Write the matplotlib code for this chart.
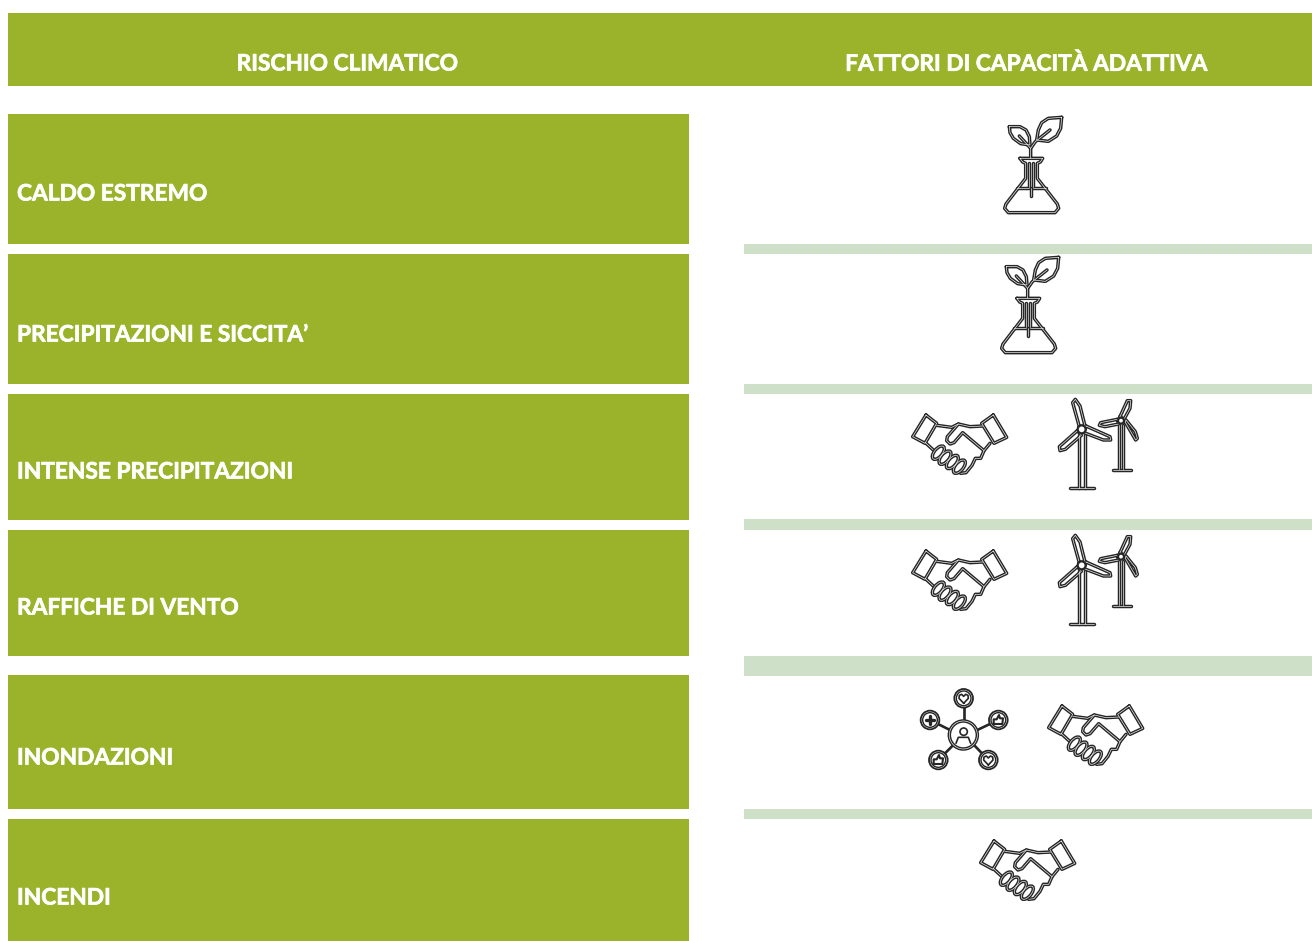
import matplotlib
matplotlib.use("Agg")
import matplotlib.pyplot as plt
import matplotlib.patheffects as pe
from matplotlib.patches import Rectangle, Circle, Ellipse

plt.rcParams['font.family'] = ['Lato', 'DejaVu Sans']

GREEN = "#9ab32b"
PALE = "#cee1c8"
DARK = "#262626"
OUTER = 2.5
INNER = 0.45

# Table content
headers = ["RISCHIO CLIMATICO", "FATTORI DI CAPACITÀ ADATTIVA"]
risks = ["CALDO ESTREMO", "PRECIPITAZIONI E SICCITA’", "INTENSE PRECIPITAZIONI",
         "RAFFICHE DI VENTO", "INONDAZIONI", "INCENDI"]
row_tops = [114, 254, 394, 530, 675, 819]
row_bottoms = [244, 384, 520, 656, 809, 941]
label_y = [194, 335, 472, 608, 758, 898]
sep_tops = [244, 384, 519, 656, 809]
sep_bottoms = [254, 394, 530, 676, 819]

# icon name, x offset, y offset per row
row_icons = [
    [("flask", 0, 0)],
    [("flask", -3, 140)],
    [("hands", 0, 0), ("turbines", 0, 0)],
    [("hands", 0, 136), ("turbines", 0, 136)],
    [("network", 0, 0), ("hands", 136, 291)],
    [("hands", 68, 426)],
]

fig = plt.figure(figsize=(13.12, 9.41), dpi=100)
ax = fig.add_axes([0, 0, 1, 1])
ax.set_xlim(0, 1312)
ax.set_ylim(941, 0)
ax.axis("off")


def stroke(pts, ox, oy, org, closed=False, single=None):
    # icons were traced at 3x, so divide back down to pixels
    xs = [p[0] / 3 + org[0] + ox for p in pts]
    ys = [p[1] / 3 + org[1] + oy for p in pts]
    if closed:
        xs.append(xs[0])
        ys.append(ys[0])
    if single:
        ax.plot(xs, ys, color=DARK, lw=single, solid_joinstyle="round", solid_capstyle="round", zorder=7)
        return
    ax.plot(xs, ys, color=DARK, lw=OUTER, solid_joinstyle="round", solid_capstyle="round", zorder=3)
    ax.plot(xs, ys, color="white", lw=INNER, solid_joinstyle="round", solid_capstyle="round", zorder=4)


def ring(cx, cy, r, ox, oy, org, lw=1.6, fc="none"):
    c = (cx / 3 + org[0] + ox, cy / 3 + org[1] + oy)
    ax.add_patch(Circle(c, r / 3, fc=fc, ec=DARK, lw=lw, zorder=5))


def draw_flask(ox, oy):
    org = (960, 100)
    stroke([(180, 175), (248, 175), (241, 186), (232, 190), (232, 235), (292, 312), (296, 325), (285, 338),
            (145, 338), (134, 325), (138, 312), (197, 235), (197, 190), (188, 186)], ox, oy, org, True)
    stroke([(172, 265), (207, 265)], ox, oy, org)
    stroke([(220, 265), (258, 265)], ox, oy, org)
    stroke([(207, 190), (207, 262)], ox, oy, org)
    stroke([(220, 190), (220, 262)], ox, oy, org)
    stroke([(213, 264), (213, 288)], ox, oy, org)
    stroke([(212, 175), (212, 145), (178, 108)], ox, oy, org)
    stroke([(212, 145), (226, 125), (270, 90)], ox, oy, org)
    stroke([(148, 80), (180, 80), (198, 90), (208, 110), (210, 135), (182, 131), (160, 115), (150, 98)],
           ox, oy, org, True)
    stroke([(305, 52), (265, 55), (245, 68), (235, 90), (230, 120), (265, 124), (290, 108), (302, 85)],
           ox, oy, org, True)


def draw_hands(ox, oy):
    org = (890, 390)
    stroke([(108, 75), (140, 100), (105, 160), (68, 140)], ox, oy, org, True)
    stroke([(310, 75), (350, 142), (312, 160), (275, 100)], ox, oy, org, True)
    stroke([(140, 106), (185, 112), (205, 102), (240, 110), (278, 108)], ox, oy, org)
    stroke([(205, 102), (172, 140), (170, 152), (180, 162), (192, 158), (218, 128), (282, 182)], ox, oy, org)
    stroke([(105, 157), (130, 180)], ox, oy, org)
    stroke([(300, 160), (282, 182), (272, 205), (256, 205), (246, 226), (228, 248), (212, 250)], ox, oy, org)
    for cx, cy in [(145, 188), (165, 203), (187, 216), (208, 230)]:
        c = (cx / 3 + org[0] + ox, cy / 3 + org[1] + oy)
        ax.add_patch(Ellipse(c, 8, 16, angle=40, fc="white", ec=DARK, lw=OUTER, zorder=5))
        ax.add_patch(Ellipse(c, 8, 16, angle=40, fc="none", ec="white", lw=INNER, zorder=6))


def draw_turbines(ox, oy):
    org = (890, 390)
    stroke([(568, 110), (548, 38), (556, 28), (570, 48), (585, 108)], ox, oy, org, True)
    stroke([(588, 108), (660, 140), (662, 150), (640, 150), (582, 128)], ox, oy, org, True)
    stroke([(562, 122), (508, 170), (510, 182), (526, 178), (574, 136)], ox, oy, org, True)
    stroke([(566, 135), (566, 295)], ox, oy, org)
    stroke([(585, 135), (585, 295)], ox, oy, org)
    stroke([(540, 295), (612, 295)], ox, oy, org)
    ring(575, 118, 12, ox, oy, org, fc="white")
    stroke([(690, 80), (712, 32), (722, 32), (720, 55), (702, 88)], ox, oy, org, True)
    stroke([(682, 88), (632, 98), (628, 106), (645, 110), (686, 102)], ox, oy, org, True)
    stroke([(705, 95), (737, 150), (742, 145), (736, 125), (708, 90)], ox, oy, org, True)
    stroke([(686, 105), (686, 238)], ox, oy, org)
    stroke([(700, 105), (700, 238)], ox, oy, org)
    stroke([(668, 240), (722, 240)], ox, oy, org)
    ring(693, 92, 9, ox, oy, org, fc="white")


def draw_network(ox, oy):
    org = (900, 680)
    c = (190 / 3 + org[0], 165 / 3 + org[1])
    ax.add_patch(Circle(c, 14, fc="white", ec=DARK, lw=OUTER, zorder=5))
    ax.add_patch(Circle(c, 14, fc="none", ec="white", lw=INNER, zorder=6))
    ring(191, 155, 11, ox, oy, org, 1.2, fc="white")
    stroke([(168, 190), (175, 172), (205, 172), (212, 190)], ox, oy, org, single=1.2)
    sats = [(191, 55), (90, 120), (295, 120), (115, 240), (265, 240)]
    inner = [(191, 122), (150, 150), (232, 150), (160, 195), (222, 195)]
    for (sx, sy), (ix, iy) in zip(sats, inner):
        dx, dy = ix - sx, iy - sy
        d = (dx ** 2 + dy ** 2) ** 0.5
        ax.plot([(sx + dx * 27 / d) / 3 + org[0], ix / 3 + org[0]], [(sy + dy * 27 / d) / 3 + org[1], iy / 3 + org[1]],
                color=DARK, lw=1.9, zorder=3)
        ring(sx, sy, 28, ox, oy, org, 1.3, fc="white")
        ring(sx, sy, 22, ox, oy, org, 1.0)
    for hx, hy in [(191, 55), (265, 240)]:
        stroke([(hx, hy + 15), (hx - 14, hy), (hx - 13, hy - 9), (hx - 6, hy - 12), (hx, hy - 6), (hx + 6, hy - 12),
                (hx + 13, hy - 9), (hx + 14, hy)], ox, oy, org, True, single=1.2)
    stroke([(90, 108), (90, 132)], ox, oy, org, single=2.4)
    stroke([(78, 120), (102, 120)], ox, oy, org, single=2.4)
    for tx, ty in [(295, 120), (115, 240)]:
        stroke([(tx - 14, ty + 12), (tx - 14, ty - 2), (tx - 5, ty - 2), (tx + 2, ty - 15), (tx + 5, ty - 5),
                (tx + 14, ty - 5), (tx + 12, ty + 12)], ox, oy, org, True, single=1.5)


white_edge = [pe.withStroke(linewidth=0.5, foreground="white")]

# Header band
ax.add_patch(Rectangle((8, 13), 1304, 73, fc=GREEN, ec="none"))
for name, xc in zip(headers, [348, 1027]):
    ax.text(xc, 64, name, color="white", fontsize=16.35, fontweight="bold", ha="center", va="center",
            path_effects=white_edge)

# Left column
for name, top, bottom, ty in zip(risks, row_tops, row_bottoms, label_y):
    ax.add_patch(Rectangle((8, top), 681, bottom - top, fc=GREEN, ec="none"))
    ax.text(17, ty, name, color="white", fontsize=16.35, fontweight="bold", ha="left", va="center",
            path_effects=white_edge)

# Right column separators
for top, bottom in zip(sep_tops, sep_bottoms):
    ax.add_patch(Rectangle((744, top), 568, bottom - top, fc=PALE, ec="none"))

drawers = {"flask": draw_flask, "hands": draw_hands, "turbines": draw_turbines, "network": draw_network}
for icons in row_icons:
    for name, ox, oy in icons:
        drawers[name](ox, oy)

fig.savefig("out.png", dpi=100)
